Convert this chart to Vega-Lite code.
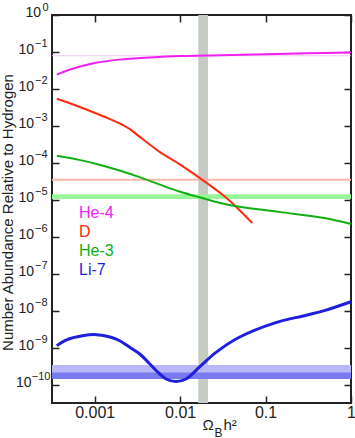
{
  "$schema": "https://vega.github.io/schema/vega-lite/v6.json",
  "width": 299,
  "height": 388,
  "autosize": {"type": "none"},
  "padding": {"left": 52, "top": 15, "right": 4, "bottom": 35},
  "background": "white",
  "config": {
    "font": "Liberation Sans",
    "view": {"stroke": "#222222", "strokeWidth": 2},
    "axis": {"grid": false, "domain": false, "labelColor": "#222222", "tickColor": "#222222", "tickWidth": 1.5, "titleFontWeight": "normal", "titleColor": "#222222", "labelFlush": false, "labelOverlap": false, "labelBound": false}
  },
  "datasets": {
    "vband": [{"band": "Omega", "x1": 0.0163, "x2": 0.0212}],
    "obs": [
      {"band": "He4obs", "y1": 0.0765, "y2": 0.0815},
      {"band": "Dobs", "y1": 0.0000325, "y2": 0.000037},
      {"band": "He3obs", "y1": 0.0000105, "y2": 0.0000141}
    ],
    "li7obs": [
      {"band": "Li7outer", "y1": 1.41e-10, "y2": 3.4e-10},
      {"band": "Li7inner", "y1": 1.41e-10, "y2": 2.1e-10}
    ],
    "curves": [
      {"species": "He-4", "x": 0.00036, "y": 0.0243},
      {"species": "He-4", "x": 0.000506, "y": 0.033},
      {"species": "He-4", "x": 0.001, "y": 0.05},
      {"species": "He-4", "x": 0.00195, "y": 0.062},
      {"species": "He-4", "x": 0.0044, "y": 0.071},
      {"species": "He-4", "x": 0.01, "y": 0.078},
      {"species": "He-4", "x": 0.03, "y": 0.082},
      {"species": "He-4", "x": 0.1, "y": 0.087},
      {"species": "He-4", "x": 0.3, "y": 0.092},
      {"species": "He-4", "x": 1, "y": 0.097},
      {"species": "D", "x": 0.00036, "y": 0.0054},
      {"species": "D", "x": 0.00066, "y": 0.0033},
      {"species": "D", "x": 0.001135, "y": 0.002},
      {"species": "D", "x": 0.001486, "y": 0.00155},
      {"species": "D", "x": 0.00195, "y": 0.00117},
      {"species": "D", "x": 0.00255, "y": 0.00083},
      {"species": "D", "x": 0.00334, "y": 0.00051},
      {"species": "D", "x": 0.00571, "y": 0.0002},
      {"species": "D", "x": 0.0098, "y": 0.000092},
      {"species": "D", "x": 0.0169, "y": 0.000039},
      {"species": "D", "x": 0.0312, "y": 0.0000138},
      {"species": "D", "x": 0.0467, "y": 0.000006},
      {"species": "D", "x": 0.0698, "y": 0.00000235},
      {"species": "He-3", "x": 0.00036, "y": 0.000155},
      {"species": "He-3", "x": 0.00066, "y": 0.00012},
      {"species": "He-3", "x": 0.001135, "y": 0.000089},
      {"species": "He-3", "x": 0.00195, "y": 0.000062},
      {"species": "He-3", "x": 0.00334, "y": 0.000041},
      {"species": "He-3", "x": 0.00571, "y": 0.000026},
      {"species": "He-3", "x": 0.0098, "y": 0.0000167},
      {"species": "He-3", "x": 0.0168, "y": 0.0000117},
      {"species": "He-3", "x": 0.0376, "y": 0.0000072},
      {"species": "He-3", "x": 0.1445, "y": 0.0000047},
      {"species": "He-3", "x": 0.487, "y": 0.0000032},
      {"species": "He-3", "x": 1, "y": 0.0000022},
      {"species": "Li-7", "x": 0.00036, "y": 1.12e-9},
      {"species": "Li-7", "x": 0.000467, "y": 1.62e-9},
      {"species": "Li-7", "x": 0.000718, "y": 2.09e-9},
      {"species": "Li-7", "x": 0.00105, "y": 2.24e-9},
      {"species": "Li-7", "x": 0.00179, "y": 1.7e-9},
      {"species": "Li-7", "x": 0.00276, "y": 9.1e-10},
      {"species": "Li-7", "x": 0.00334, "y": 6.8e-10},
      {"species": "Li-7", "x": 0.00437, "y": 3.7e-10},
      {"species": "Li-7", "x": 0.00523, "y": 2.4e-10},
      {"species": "Li-7", "x": 0.00684, "y": 1.41e-10},
      {"species": "Li-7", "x": 0.00895, "y": 1.2e-10},
      {"species": "Li-7", "x": 0.01172, "y": 1.41e-10},
      {"species": "Li-7", "x": 0.0168, "y": 2.95e-10},
      {"species": "Li-7", "x": 0.0263, "y": 7.4e-10},
      {"species": "Li-7", "x": 0.0492, "y": 1.9e-9},
      {"species": "Li-7", "x": 0.1265, "y": 4.6e-9},
      {"species": "Li-7", "x": 0.3076, "y": 7.6e-9},
      {"species": "Li-7", "x": 0.486, "y": 1.0e-8},
      {"species": "Li-7", "x": 1, "y": 1.74e-8}
    ]
  },
  "resolve": {"axis": {"x": "independent", "y": "independent"}},
  "layer": [
    {
      "data": {"name": "vband"},
      "mark": {"type": "rect"},
      "encoding": {
        "x": {"field": "x1", "type": "quantitative", "scale": {"type": "log", "domain": [0.00031623, 1], "nice": false},
              "axis": {"orient": "top", "values": [0.001, 0.01, 0.1, 1], "labels": false, "tickSize": -7,
                       "title": "h²", "titleFontSize": 15, "titleX": 171, "titleY": 414, "titleAlign": "left", "titleBaseline": "alphabetic"}},
        "x2": {"field": "x2"},
        "fill": {"field": "band", "type": "nominal", "legend": null,
                 "scale": {"domain": ["Omega", "He4obs", "Dobs", "He3obs", "Li7outer", "Li7inner"],
                           "range": ["#c6cbc4", "#f6c6f2", "#f9b8a8", "#99f599", "#b8b8f8", "#7a7af0"]}}
      }
    },
    {
      "data": {"name": "obs"},
      "mark": {"type": "rect"},
      "encoding": {
        "y": {"field": "y1", "type": "quantitative", "scale": {"type": "log", "domain": [3.1623e-11, 1], "nice": false},
              "axis": {"orient": "right", "values": [1, 0.1, 0.01, 0.001, 0.0001, 0.00001, 0.000001, 1e-7, 1e-8, 1e-9, 1e-10], "labels": false, "tickSize": -7, "title": null}},
        "y2": {"field": "y2"},
        "fill": {"field": "band", "type": "nominal", "legend": null}
      }
    },
    {
      "data": {"name": "li7obs"},
      "mark": {"type": "rect"},
      "encoding": {
        "y": {"field": "y1", "type": "quantitative", "scale": {"type": "log", "domain": [3.1623e-11, 1], "nice": false},
              "axis": {"orient": "left", "values": [1, 0.1, 0.01, 0.001, 0.0001, 0.00001, 0.000001, 1e-7, 1e-8, 1e-9, 1e-10], "ticks": false, "tickSize": 0,
                       "labelFontSize": 11, "labelOffset": -8,
                       "labelPadding": {"expr": "datum.value < 5e-10 ? 2 : (datum.value > 0.5 ? 4 : 5)"},
                       "labelExpr": "['0','−1','−2','−3','−4','−5','−6','−7','−8','−9','−10'][round(-log(datum.value)/LN10)]",
                       "title": null}},
        "y2": {"field": "y2"},
        "fill": {"field": "band", "type": "nominal", "legend": null}
      }
    },
    {
      "data": {"name": "curves"},
      "transform": [{"filter": "datum.species !== 'Li-7'"}],
      "mark": {"type": "line", "interpolate": "catmull-rom", "strokeWidth": 2},
      "encoding": {
        "x": {"field": "x", "type": "quantitative", "scale": {"type": "log", "domain": [0.00031623, 1], "nice": false},
              "axis": {"orient": "bottom", "values": [0.001, 0.01, 0.1, 1], "format": "~g", "tickSize": -7, "labelPadding": 8, "labelFontSize": 16,
                       "title": "Ω", "titleFontSize": 15, "titleX": 150, "titleY": 26, "titleAlign": "left", "titleBaseline": "alphabetic"}},
        "y": {"field": "y", "type": "quantitative", "scale": {"type": "log", "domain": [3.1623e-11, 1], "nice": false},
              "axis": {"orient": "left", "values": [1, 0.1, 0.01, 0.001, 0.0001, 0.00001, 0.000001, 1e-7, 1e-8, 1e-9, 1e-10], "tickSize": -7, "labelFontSize": 14, "labelOffset": -2.5,
                       "labelPadding": {"expr": "datum.value < 5e-10 ? 28 : (datum.value > 0.5 ? 18.5 : 25.5)"},
                       "labelExpr": "'10'",
                       "title": "Number Abundance Relative to Hydrogen", "titleFontSize": 15, "titleX": -45, "titleY": 197, "titleBaseline": "middle"}},
        "color": {"field": "species", "type": "nominal",
                  "scale": {"domain": ["He-4", "D", "He-3", "Li-7"], "range": ["#f020f0", "#ff2a10", "#10b010", "#1f1fe0"]},
                  "legend": {"title": null, "orient": "none", "legendX": 11, "legendY": 190, "symbolType": "circle", "symbolSize": 0, "symbolOpacity": 0, "symbolStrokeWidth": 0,
                             "labelOffset": 0, "labelFontSize": 16, "rowPadding": 3, "padding": 0,
                             "labelColor": {"expr": "scale('color', datum.value)"}}}
      }
    },
    {
      "data": {"name": "curves"},
      "transform": [{"filter": "datum.species === 'Li-7'"}],
      "mark": {"type": "line", "interpolate": "catmull-rom", "strokeWidth": 3},
      "encoding": {
        "x": {"field": "x", "type": "quantitative", "scale": {"type": "log", "domain": [0.00031623, 1], "nice": false},
              "axis": {"orient": "bottom", "ticks": false, "labels": false, "title": "B", "titleFontSize": 12, "titleX": 162, "titleY": 33, "titleAlign": "left", "titleBaseline": "alphabetic"}},
        "y": {"field": "y", "type": "quantitative", "scale": {"type": "log", "domain": [3.1623e-11, 1], "nice": false}, "axis": null},
        "color": {"field": "species", "type": "nominal",
                  "legend": {"title": null, "orient": "none", "legendX": 11, "legendY": 190, "symbolType": "circle", "symbolSize": 0, "symbolOpacity": 0, "symbolStrokeWidth": 0,
                             "labelOffset": 0, "labelFontSize": 16, "rowPadding": 3, "padding": 0,
                             "labelColor": {"expr": "scale('color', datum.value)"}}}
      }
    }
  ]
}
